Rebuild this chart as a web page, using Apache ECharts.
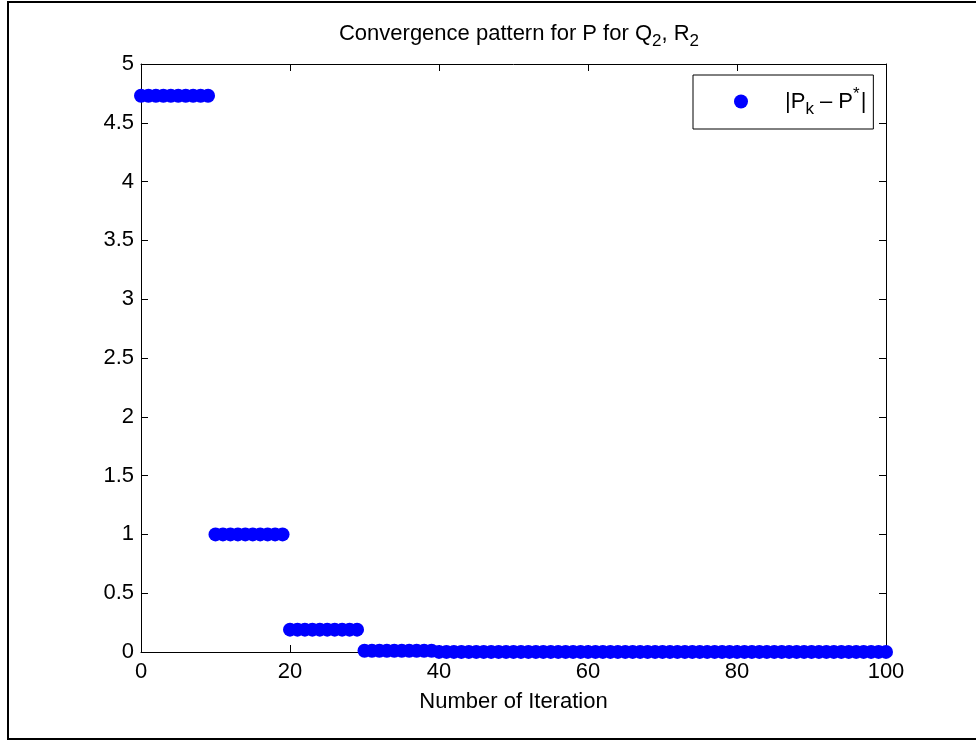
<!DOCTYPE html>
<html>
<head>
<meta charset="utf-8">
<script src="https://cdn.jsdelivr.net/npm/echarts@6/dist/echarts.min.js"></script>
<style>
html,body{margin:0;padding:0;background:#fff;}
#chart{width:976px;height:740px;}
</style>
</head>
<body>
<div id="chart"></div>
<script>
// Data
const iterations = [
  0,1,2,3,4,5,6,7,8,9,
  10,11,12,13,14,15,16,17,18,19,
  20,21,22,23,24,25,26,27,28,29,
  30,31,32,33,34,35,36,37,38,39,
  40,41,42,43,44,45,46,47,48,49,
  50,51,52,53,54,55,56,57,58,59,
  60,61,62,63,64,65,66,67,68,69,
  70,71,72,73,74,75,76,77,78,79,
  80,81,82,83,84,85,86,87,88,89,
  90,91,92,93,94,95,96,97,98,99,
  100
];
const errorValues = [
  4.73,4.73,4.73,4.73,4.73,4.73,4.73,4.73,4.73,4.73,
  1.0,1.0,1.0,1.0,1.0,1.0,1.0,1.0,1.0,1.0,
  0.19,0.19,0.19,0.19,0.19,0.19,0.19,0.19,0.19,0.19,
  0.01,0.01,0.01,0.01,0.01,0.01,0.01,0.01,0.01,0.01,
  0.001,0.001,0.001,0.001,0.001,0.001,0.001,0.001,0.001,0.001,
  0.001,0.001,0.001,0.001,0.001,0.001,0.001,0.001,0.001,0.001,
  0.001,0.001,0.001,0.001,0.001,0.001,0.001,0.001,0.001,0.001,
  0.001,0.001,0.001,0.001,0.001,0.001,0.001,0.001,0.001,0.001,
  0.001,0.001,0.001,0.001,0.001,0.001,0.001,0.001,0.001,0.001,
  0.001,0.001,0.001,0.001,0.001,0.001,0.001,0.001,0.001,0.001,
  0.001
];
const xTicks = [0, 20, 40, 60, 80, 100];
const yTicks = [0, 0.5, 1, 1.5, 2, 2.5, 3, 3.5, 4, 4.5, 5];
const seriesName = '|Pk - P*|';

const FONT = '"Liberation Sans", Arial, sans-serif';
const FS = 22;
const points = iterations.map((x, i) => [x, errorValues[i]]);

const chart = echarts.init(document.getElementById('chart'), null, {renderer: 'canvas'});

const axisCommon = {
  axisLine: {show: true, onZero: false, lineStyle: {color: '#000', width: 1}},
  axisTick: {show: true, inside: true, length: 7, lineStyle: {color: '#000', width: 1}},
  splitLine: {show: false}
};

chart.setOption({
  backgroundColor: '#fff',
  animation: false,
  graphic: [{
    type: 'rect',
    shape: {x: 8, y: 2, width: 1000, height: 737},
    style: {fill: 'none', stroke: '#000', lineWidth: 2},
    silent: true,
    z: -1
  }],
  title: {
    text: '{t|Convergence pattern for P for Q}{s|2}{t|, R}{s|2}',
    left: 514, top: 12, textAlign: 'center',
    textStyle: {
      fontWeight: 'normal',
      rich: {
        t: {fontFamily: FONT, fontSize: FS, fontWeight: 'normal', color: '#000'},
        s: {fontFamily: FONT, fontSize: 17, fontWeight: 'normal', color: '#000', padding: [16, 0, 0, 0]}
      }
    }
  },
  grid: {left: 141, top: 64, right: 90, bottom: 88, containLabel: false},
  legend: {
    show: true,
    left: 693, top: 75,
    orient: 'vertical',
    padding: [11, 7, 11, 41],
    borderColor: '#000', borderWidth: 1,
    backgroundColor: '#fff',
    itemWidth: 14, itemHeight: 14,
    icon: 'circle',
    data: [seriesName],
    formatter: function () {
      return '{a||P}{sub|k}{a| \u2013 P}{sup|*}{a||}';
    },
    textStyle: {
      rich: {
        a: {fontFamily: FONT, fontSize: FS, color: '#000'},
        sub: {fontFamily: FONT, fontSize: 17, color: '#000', padding: [16, 0, 0, 0]},
        sup: {fontFamily: FONT, fontSize: 17, color: '#000', padding: [0, 1, 14, 0]}
      },
      padding: [0, 0, 0, 32]
    }
  },
  xAxis: [{
    type: 'value', min: xTicks[0], max: xTicks[xTicks.length - 1], interval: 20,
    position: 'bottom',
    name: 'Number of Iteration', nameLocation: 'middle', nameGap: 39,
    nameTextStyle: {fontFamily: FONT, fontSize: FS, color: '#000'},
    axisLabel: {fontFamily: FONT, fontSize: FS, color: '#000', margin: 9},
    ...axisCommon
  }, {
    type: 'value', min: xTicks[0], max: xTicks[xTicks.length - 1], interval: 20,
    position: 'top',
    axisLabel: {show: false},
    ...axisCommon
  }],
  yAxis: [{
    type: 'value', min: yTicks[0], max: yTicks[yTicks.length - 1], interval: 0.5,
    position: 'left',
    axisLabel: {fontFamily: FONT, fontSize: FS, color: '#000', margin: 7},
    ...axisCommon
  }, {
    type: 'value', min: yTicks[0], max: yTicks[yTicks.length - 1], interval: 0.5,
    position: 'right',
    axisLabel: {show: false},
    ...axisCommon
  }],
  series: [{
    name: seriesName,
    type: 'scatter',
    symbol: 'circle',
    symbolSize: 14,
    clip: false,
    itemStyle: {color: '#0000ff', opacity: 1},
    data: points
  }]
});
</script>
</body>
</html>
